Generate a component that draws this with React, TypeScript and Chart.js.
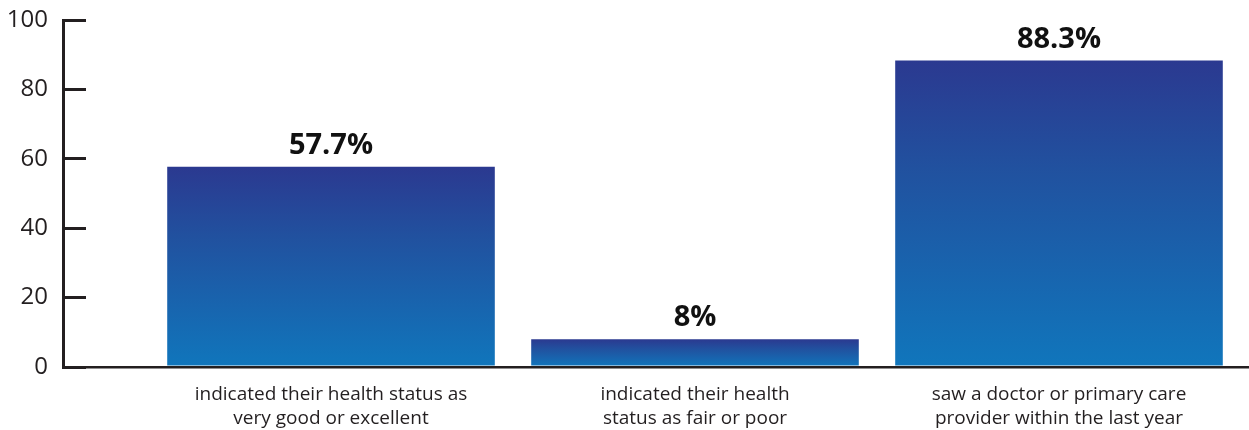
import React, { useEffect, useRef } from 'react';
import { Chart, registerables } from 'chart.js';

Chart.register(...registerables);

// Category labels (two lines each), bar values in percent, and y-axis ticks
const categories: string[][] = [
  ['indicated their health status as', 'very good or excellent'],
  ['indicated their health', 'status as fair or poor'],
  ['saw a doctor or primary care', 'provider within the last year'],
];
const percentValues: number[] = [57.7, 8, 88.3];
const yTickValues: number[] = [0, 20, 40, 60, 80, 100];

const FONT = '"Open Sans", "Noto Sans", "DejaVu Sans", sans-serif';
const INK = '#231F20';
const GRADIENT_TOP = '#2B3990';
const GRADIENT_MID = '#21519F';
const GRADIENT_BOTTOM = '#1076BC';

// Bold percentage label above every bar
const valueLabels = {
  id: 'valueLabels',
  afterDatasetsDraw(chart: any) {
    const ctx = chart.ctx;
    const meta = chart.getDatasetMeta(0);
    ctx.save();
    ctx.font = `bold 29px ${FONT}`;
    ctx.fillStyle = '#111';
    ctx.textAlign = 'center';
    ctx.textBaseline = 'alphabetic';
    meta.data.forEach((bar: any, i: number) => {
      ctx.fillText(`${percentValues[i]}%`, bar.x, bar.y - 13);
    });
    ctx.restore();
  },
};

// Vertical gradient running from each bar's top to the baseline
function barGradient(c: any) {
  const chart = c.chart;
  const yScale = chart.scales?.y;
  if (!chart.chartArea || !yScale || c.type !== 'data') return GRADIENT_BOTTOM;
  const top = yScale.getPixelForValue(c.parsed.y);
  const bottom = yScale.getPixelForValue(0);
  if (!isFinite(top) || !isFinite(bottom) || Math.abs(bottom - top) < 1) return GRADIENT_BOTTOM;
  const g = chart.ctx.createLinearGradient(0, top, 0, bottom);
  g.addColorStop(0, GRADIENT_TOP);
  g.addColorStop(0.35, GRADIENT_MID);
  g.addColorStop(1, GRADIENT_BOTTOM);
  return g;
}

export default function App() {
  const canvasRef = useRef<HTMLCanvasElement | null>(null);

  useEffect(() => {
    if (!canvasRef.current) return;
    const chart = new Chart(canvasRef.current, {
      type: 'bar',
      data: {
        datasets: [
          {
            data: percentValues.map((v, i) => ({ x: i, y: v })),
            backgroundColor: barGradient,
            borderWidth: 0,
            categoryPercentage: 1,
            barPercentage: 0.9,
          },
        ],
      },
      options: {
        responsive: false,
        animation: false,
        layout: { padding: { top: 20, right: 0, bottom: 0, left: 0 } },
        plugins: {
          legend: { display: false },
          tooltip: { enabled: false },
        },
        scales: {
          x: {
            type: 'linear',
            offset: false,
            bounds: 'data',
            min: -0.7363,
            max: 2.522,
            afterBuildTicks: (s: any) => {
              s.ticks = categories.map((_, i) => ({ value: i }));
            },
            afterFit: (s: any) => {
              s.height = 63;
              s.paddingLeft = 0;
              s.paddingRight = 0;
            },
            grid: { display: false, drawTicks: false, offset: false },
            border: { display: true, color: INK, width: 2.5 },
            ticks: {
              autoSkip: false,
              maxRotation: 0,
              padding: 16,
              color: INK,
              font: { family: FONT, size: 19, lineHeight: 1.26 },
              callback: (v: any) => categories[v] ?? '',
            },
          },
          y: {
            min: 0,
            max: 100,
            afterBuildTicks: (s: any) => {
              s.ticks = yTickValues.map((v) => ({ value: v }));
            },
            afterFit: (s: any) => {
              s.width = 63;
              s.paddingTop = 0;
              s.paddingBottom = 0;
            },
            grid: {
              drawOnChartArea: false,
              drawTicks: true,
              tickLength: -23,
              color: INK,
              lineWidth: 3,
            },
            border: { display: true, color: INK, width: 3 },
            ticks: {
              padding: 38,
              color: INK,
              font: { family: FONT, size: 24 },
            },
          },
        },
      },
      plugins: [valueLabels],
    } as any);
    return () => chart.destroy();
  }, []);

  return (
    <div style={{ position: 'absolute', left: 0, top: 0, width: 1249, height: 430, background: '#fff' }}>
      <canvas ref={canvasRef} width={1249} height={430} style={{ display: 'block' }} />
    </div>
  );
}
